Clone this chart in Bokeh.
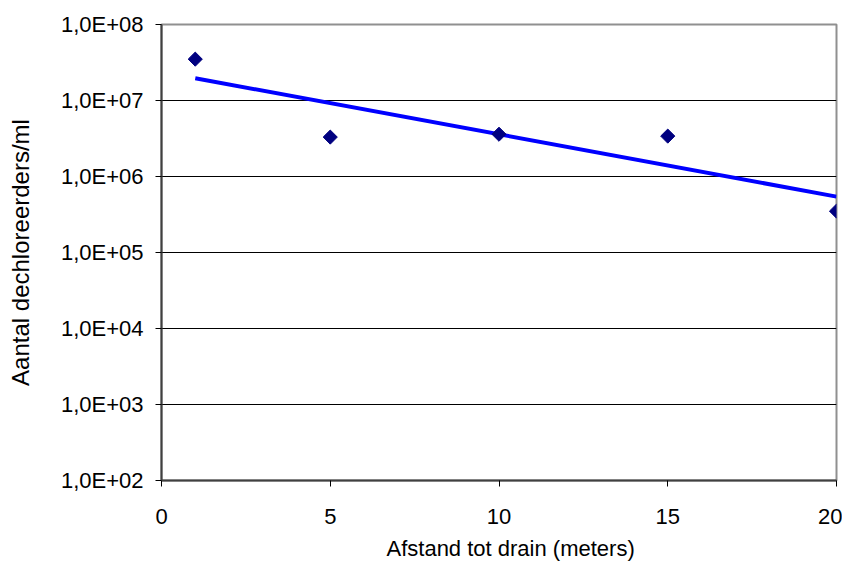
import numpy as np
from bokeh.plotting import figure
from bokeh.models import FixedTicker, CustomJSTickFormatter, Range1d, Title
from bokeh.embed import file_html
from bokeh.resources import INLINE

# Data
afstand = [1, 5, 10, 15, 20]
aantal = [3.5e7, 3.3e6, 3.6e6, 3.4e6, 3.5e5]
x_ticks = [0, 5, 10, 15, 20]
y_ticks = [1e2, 1e3, 1e4, 1e5, 1e6, 1e7, 1e8]

# exponential trendline (least squares on log10)
slope, intercept = np.polyfit(afstand, np.log10(aantal), 1)
trend_x = [afstand[0], afstand[-1]]
trend_y = [10 ** (intercept + slope * v) for v in trend_x]

FONT = "Liberation Sans"
FS = "22px"

p = figure(width=842, height=568, y_axis_type="log",
           x_range=Range1d(0, 20), y_range=Range1d(1e2, 1e8),
           output_backend="svg", toolbar_location=None,
           min_border_left=161, min_border_right=6,
           min_border_top=24, min_border_bottom=88)
p.background_fill_color = "white"
p.border_fill_color = "white"
p.outline_line_color = "#909090"
p.outline_line_width = 2

p.xgrid.grid_line_color = None
p.ygrid.grid_line_color = "black"
p.ygrid.grid_line_width = 1

p.line(trend_x, trend_y, line_color="#0000FF", line_width=4)
p.scatter(afstand, aantal, marker="square", angle=np.pi / 4, size=10,
          fill_color="#000080", line_color="#000080")

p.xaxis.ticker = FixedTicker(ticks=x_ticks)
p.yaxis.ticker = FixedTicker(ticks=y_ticks)
p.yaxis.formatter = CustomJSTickFormatter(code="""
const e = Math.round(Math.log10(tick));
return "1,0E+" + (e < 10 ? "0" : "") + e;
""")

for ax in (p.xaxis, p.yaxis):
    ax.axis_line_color = "#404040"
    ax.axis_line_width = 2
    ax.major_tick_line_color = "black"
    ax.major_tick_out = 6
    ax.major_tick_in = 0
    ax.minor_tick_line_color = None
    ax.major_label_text_font = FONT
    ax.major_label_text_font_size = FS
    ax.major_label_text_color = "black"
    ax.axis_label_text_font = FONT
    ax.axis_label_text_font_style = "normal"
    ax.axis_label_text_color = "black"

p.yaxis.axis_label = "Aantal dechloreerders/ml"
p.yaxis.axis_label_text_font_size = "24px"
p.xaxis.major_label_standoff = 22
p.yaxis.major_label_standoff = 12
p.yaxis.axis_label_standoff = 24

xt = Title(text="Afstand tot drain (meters)", align="left", offset=225,
           text_font=FONT, text_font_size=FS, text_font_style="normal",
           text_color="black", standoff=15)
p.add_layout(xt, "below")

open("out.html", "w").write(file_html(p, INLINE))
